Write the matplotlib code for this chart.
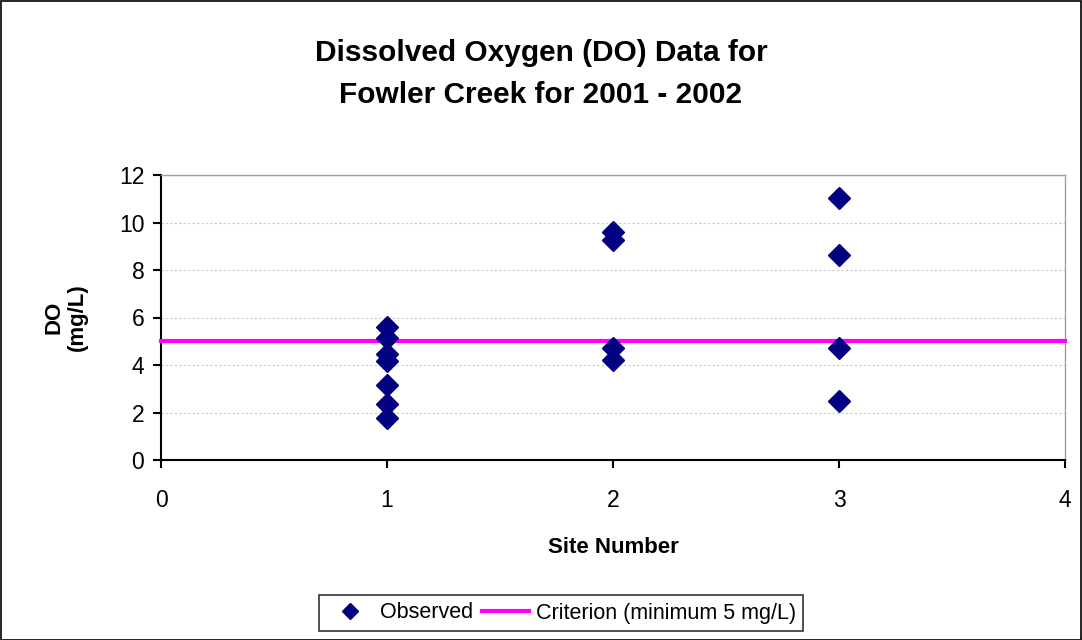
import matplotlib
matplotlib.use("Agg")
import matplotlib.pyplot as plt
from matplotlib.patches import Rectangle

plt.rcParams['font.family'] = ['Liberation Sans', 'DejaVu Sans']

site = [1, 1, 1, 1, 1, 1, 1, 2, 2, 2, 2, 3, 3, 3, 3]
do_values = [5.6, 5.15, 4.45, 4.15, 3.15, 2.35, 1.75, 9.6, 9.25, 4.7, 4.2, 11.05, 8.65, 4.7, 2.5]
criterion_x = [0, 4]
criterion_y = [5, 5]
xticks = [0, 1, 2, 3, 4]
yticks = [0, 2, 4, 6, 8, 10, 12]

W, H = 1082, 640
fig = plt.figure(figsize=(W / 100, H / 100), dpi=100)
fig.patch.set_facecolor('white')
fig.patches.append(Rectangle((0.5 / W, 0.5 / H), 1 - 1.5 / W, 1 - 1.5 / H,
                             transform=fig.transFigure, fill=False,
                             edgecolor='black', linewidth=1.2))

ax = fig.add_axes([161 / W, 1 - 460 / H, (1065 - 161) / W, (460 - 175) / H])
ax.set_xlim(0, 4)
ax.set_ylim(0, 12)
ax.set_xticks(xticks)
ax.set_yticks(yticks)
ax.grid(axis='y', color='#c8c8c8', linestyle=(0, (2, 2)), linewidth=0.8)
ax.set_axisbelow(True)

obs, = ax.plot(site, do_values, linestyle='none', marker='D', markersize=11,
               color='#000080', label='Observed', zorder=4)
crit, = ax.plot(criterion_x, criterion_y, color='#FF00FF', linewidth=3,
                label='Criterion (minimum 5 mg/L)', zorder=3, clip_on=False)

for s in ['top', 'right']:
    ax.spines[s].set_color('#a0a0a0')
    ax.spines[s].set_linewidth(1)
for s in ['left', 'bottom']:
    ax.spines[s].set_color('black')
    ax.spines[s].set_linewidth(1.5)

ax.tick_params(axis='both', direction='out', length=6, width=1.5, labelsize=16.5, colors='black')
ax.tick_params(axis='x', pad=15)
ax.tick_params(axis='y', pad=6)

ax.set_xlabel('Site Number', fontsize=16, fontweight='bold', labelpad=18)
ax.set_ylabel('DO\n(mg/L)', fontsize=16, fontweight='bold', labelpad=22, linespacing=1.15)

fig.text(541 / W, 1 - 74 / H, 'Dissolved Oxygen (DO) Data for\nFowler Creek for 2001 - 2002',
         ha='center', va='center', fontsize=21.5, fontweight='bold', linespacing=1.65)

leg = fig.legend(handles=[obs, crit], loc='center', bbox_to_anchor=(561 / W, 1 - 613 / H),
                 ncol=2, fontsize=15.5, frameon=True, fancybox=False, edgecolor='black',
                 handlelength=2.2, columnspacing=0.4, handletextpad=0.3,
                 borderpad=0.35, markerscale=0.75)
leg.get_frame().set_linewidth(1.2)

fig.savefig('out.png', dpi=100)
